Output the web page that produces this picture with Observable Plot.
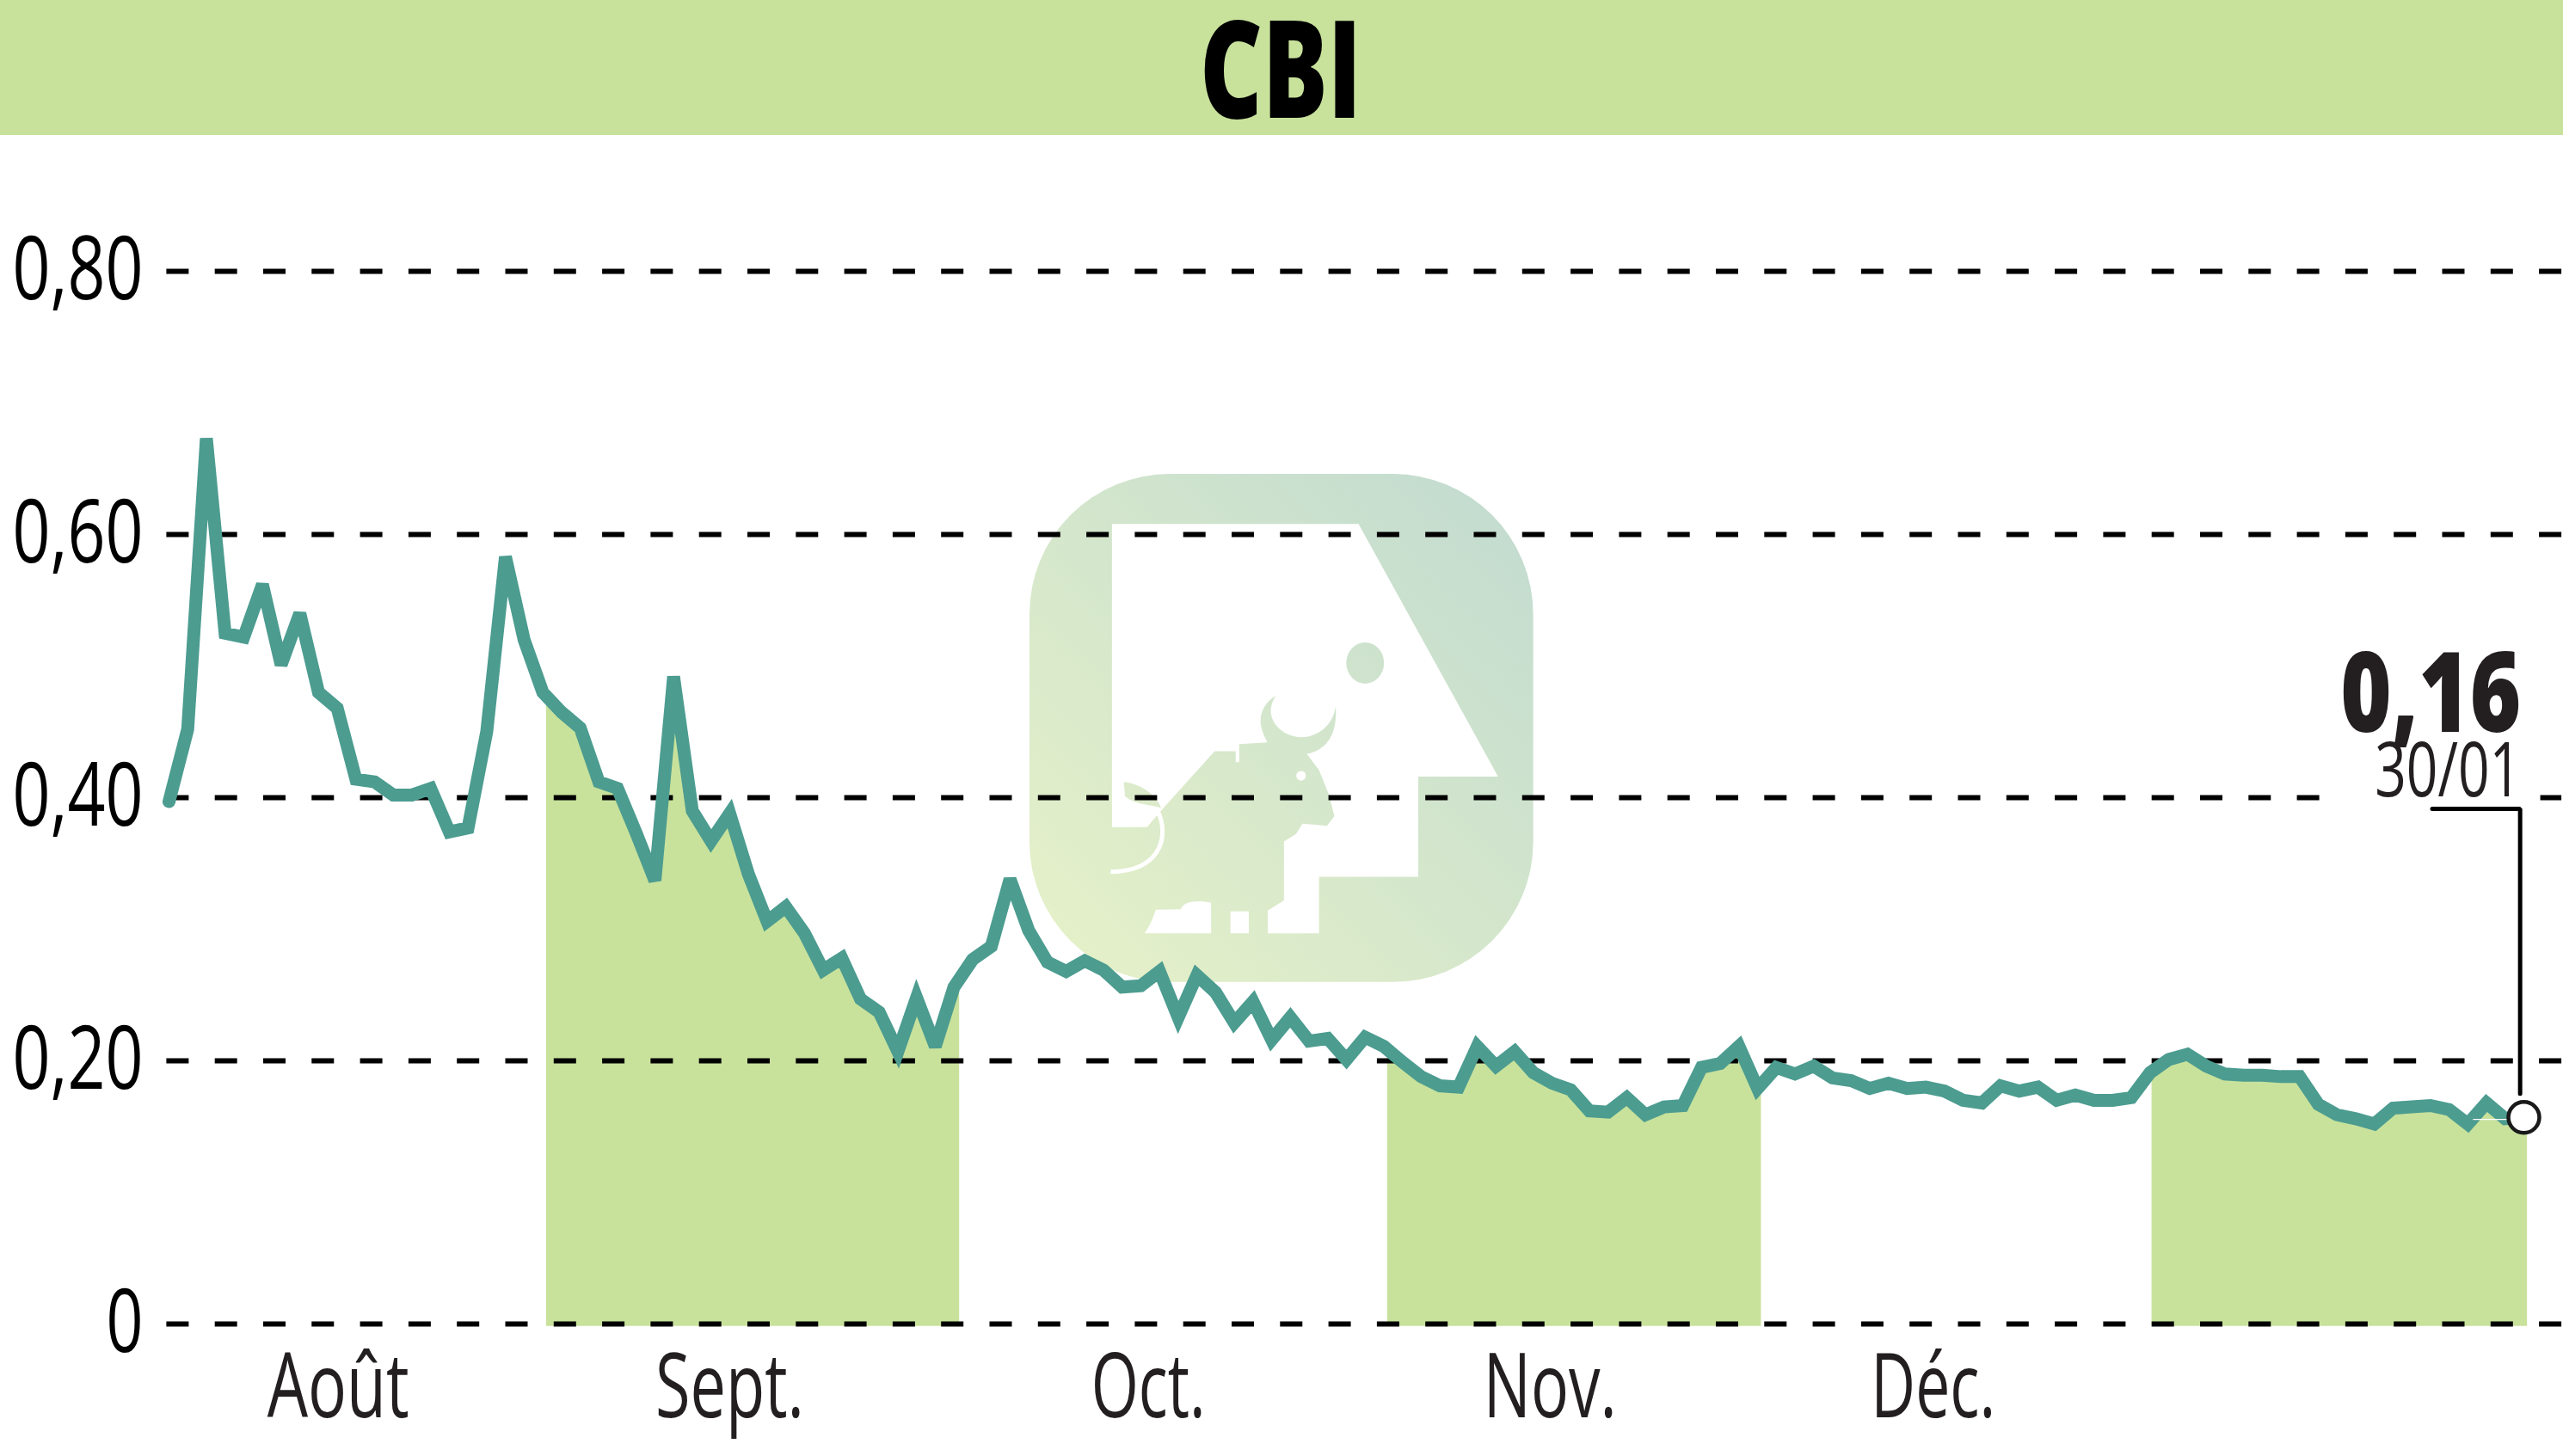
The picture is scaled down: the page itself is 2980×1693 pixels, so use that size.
<!DOCTYPE html>
<html lang="fr">
<head>
<meta charset="utf-8">
<title>CBI</title>
<script src="https://cdn.jsdelivr.net/npm/d3@7"></script>
<script src="https://cdn.jsdelivr.net/npm/@observablehq/plot@0.6"></script>
<style>
html,body{margin:0;padding:0;background:#fff;width:2980px;height:1693px;overflow:hidden}
#head{height:157px;background:#c8e29c;overflow:hidden}
svg{display:block;overflow:hidden}
</style>
</head>
<body>
<div id="head"><svg width="2980" height="157"><text x="1395" y="137" textLength="188" lengthAdjust="spacingAndGlyphs" font-family="'Open Sans',sans-serif" font-weight="800" font-size="157" fill="#000">CBI</text></svg></div>
<div id="chart"></div>
<script>
const prices = [
0.397,0.452,0.673,0.525,0.522,0.562,0.501,0.540,0.480,0.468,
0.414,0.412,0.402,0.402,0.407,0.374,0.377,0.450,0.583,0.520,
0.480,0.465,0.453,0.412,0.407,0.373,0.337,0.492,0.390,0.367,
0.388,0.342,0.306,0.317,0.297,0.269,0.278,0.247,0.237,0.207,
0.248,0.211,0.256,0.277,0.287,0.338,0.299,0.275,0.268,0.276,
0.269,0.256,0.257,0.268,0.233,0.265,0.252,0.229,0.245,0.216,
0.233,0.215,0.217,0.201,0.218,0.211,0.199,0.188,0.181,0.180,
0.211,0.196,0.207,0.191,0.183,0.178,0.162,0.161,0.172,0.159,
0.165,0.166,0.195,0.198,0.211,0.179,0.195,0.190,0.196,0.187,
0.185,0.179,0.183,0.179,0.180,0.177,0.170,0.168,0.181,0.177,
0.180,0.170,0.174,0.170,0.170,0.172,0.191,0.201,0.205,0.196,
0.190,0.189,0.189,0.188,0.188,0.167,0.159,0.156,0.152,0.164,
0.165,0.166,0.163,0.152,0.168,0.156,0.157];
const session = prices.map((_, i) => i);
const yTicks = [0, 0.2, 0.4, 0.6, 0.8];
const monthLabels = ["Août", "Sept.", "Oct.", "Nov.", "Déc."];
const monthCenters = [9.05, 30.0, 52.4, 73.9, 94.4];
const greenStart = [20.2, 65.2, 106.1];
const greenEnd = [42.3, 85.2, 126.2];
const lastValue = "0,16";
const lastDate = "30/01";
const leaderX = [121.1, 125.8, 125.8];
const leaderY = [0.3915, 0.3915, 0.175];
const textNames = ["0,80","0,60","0,40","0,20","0","Août","Sept.","Oct.","Nov.","Déc.","0,16","30/01"];
const textWidths = [152,152,152,152,43,165,173,133,155,145,210,170];

const fmt = d => d === 0 ? "0" : d.toFixed(2).replace(".", ",");
const rows = session.map((i) => ({i, v: prices[i]}));
const areaRows = [...rows, {i: 126.2, v: prices[prices.length - 1]}];
const maskStart = [-1, ...greenEnd];
const maskEnd = [...greenStart, 130];
const FONT = '"Open Sans",sans-serif';

function logo() {
  const NS = "http://www.w3.org/2000/svg";
  const g = document.createElementNS(NS, "g");
  g.setAttribute("transform", "translate(1100,343) scale(0.5102)");
  g.innerHTML = `
  <defs><linearGradient id="lg" gradientUnits="userSpaceOnUse" x1="300" y1="1200" x2="1300" y2="180">
    <stop offset="0" stop-color="#e4f0c8"/><stop offset="1" stop-color="#c3dcd0"/></linearGradient></defs>
  <rect x="190" y="100" width="1148" height="1158" rx="320" ry="320" fill="url(#lg)"/>
  <path fill="#fff" d="M378,214H940L1258,790H1076V1018H850V1147H733V1095L770,1072V938L798,920L812,897L868,902L885,880L872,830L850,775L822,738C870,730 892,690 888,630C880,680 840,700 810,700C770,700 740,670 740,640C740,625 748,610 752,605C725,620 712,650 718,675C722,695 730,705 732,712L668,716V757H660V732H612L495,862L458,905H378Z"/>
  <path fill="#fff" d="M452,1147C465,1130 472,1110 478,1093L535,1092C540,1075 570,1070 604,1077V1147Z"/>
  <rect x="648" y="1097" width="42" height="50" fill="#fff"/>
  <circle cx="809" cy="788" r="11" fill="#fff"/>
  <ellipse cx="955" cy="531" rx="43" ry="47" fill="url(#lg)"/>
  <path fill="url(#lg)" d="M405,802C440,805 480,830 490,862C480,855 430,855 408,835Z"/>
  <path fill="none" stroke="#fff" stroke-width="10" d="M482,868C508,920 495,1005 375,1007"/>`;
  return g;
}

const chart = Plot.plot({
  width: 2980,
  height: 1536,
  marginLeft: 196,
  marginRight: 46,
  marginTop: 158,
  marginBottom: 154,
  style: {background: "transparent"},
  x: {type: "linear", domain: [0, 126], range: [196, 2934], axis: null},
  y: {domain: [0, 0.8], range: [1382, 158], axis: null},
  marks: [
    Plot.areaY(areaRows, {x: "i", y1: -0.0018, y2: "v", fill: "#c8e29c"}),
    Plot.rectX(maskStart, {x1: d => d, x2: (d, j) => maskEnd[j], y1: -0.006, y2: 0.9, fill: "#fff"}),
    logo,
    Plot.ruleY(yTicks, {x1: -0.12, x2: 128.2, stroke: "#000", strokeWidth: 6, strokeDasharray: "26,30.3"}),
    Plot.rectX([0], {x1: 115.1, x2: 126.9, y1: 0.394, y2: 0.406, fill: "#fff"}),
    Plot.line(rows, {x: "i", y: "v", stroke: "#4c9c90", strokeWidth: 15, strokeLinejoin: "miter", strokeMiterlimit: 3}),
    Plot.ruleY([0.1555], {x1: 123.3, x2: 125.2, stroke: "#fff", strokeWidth: 1.2}),
    Plot.line(leaderX.map((x, j) => ({x, y: leaderY[j]})), {x: "x", y: "y", stroke: "#000", strokeWidth: 5, strokeLinejoin: "miter"}),
    Plot.dot([rows[rows.length - 1]], {x: "i", y: "v", r: 18, fill: "#fff", stroke: "#1a1a1a", strokeWidth: 4.5}),
    Plot.axisY(yTicks, {anchor: "left", tickSize: 0, tickPadding: 30, tickFormat: fmt, label: null, fontSize: 102, fontFamily: FONT, fill: "#000", textAnchor: "end"}),
    Plot.text(monthLabels, {x: (d, j) => monthCenters[j], y: -0.071, text: d => d, fontSize: 105, fontFamily: FONT, fill: "#231f20", textAnchor: "middle", lineAnchor: "bottom"}),
    Plot.text([lastValue], {x: 125.85, y: 0.4503, text: d => d, fontSize: 129, fontWeight: 800, fontFamily: FONT, fill: "#231f20", textAnchor: "end", lineAnchor: "bottom"}),
    Plot.text([lastDate], {x: 125.85, y: 0.4013, text: d => d, fontSize: 87, fontFamily: FONT, fill: "#231f20", textAnchor: "end", lineAnchor: "bottom"})
  ]
});
d3.select(chart).selectAll("text").each(function () {
  const j = textNames.indexOf(this.textContent);
  if (j >= 0) {
    this.setAttribute("textLength", textWidths[j]);
    this.setAttribute("lengthAdjust", "spacingAndGlyphs");
  }
});
document.getElementById("chart").append(chart);
</script>
</body>
</html>
